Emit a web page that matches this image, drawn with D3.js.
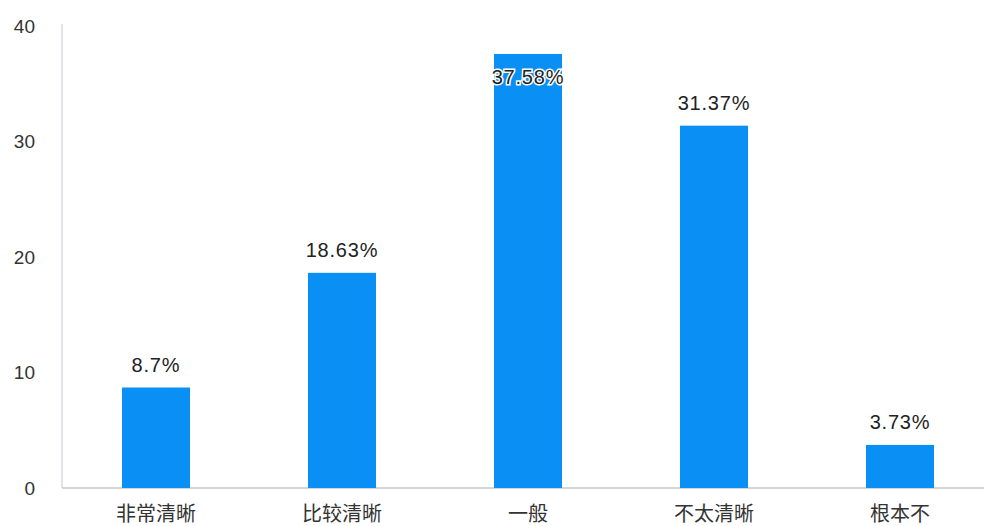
<!DOCTYPE html>
<html><head><meta charset="utf-8">
<script src="https://cdn.jsdelivr.net/npm/d3@7"></script>
<style>
html,body{margin:0;padding:0;background:#fff;overflow:hidden}
svg{display:block}
</style></head>
<body>
<svg id="c" width="984" height="526"></svg>
<script>
const categories = ["非常清晰", "比较清晰", "一般", "不太清晰", "根本不"];
const values = [8.7, 18.63, 37.58, 31.37, 3.73];
const valueLabels = ["8.7%", "18.63%", "37.58%", "31.37%", "3.73%"];
const yTicks = [0, 10, 20, 30, 40];

(function () {
const W = 984, H = 526;
const leftX = 62, baseY = 488, topY = 26;
const svg = d3.select("#c");

const x = d3.scaleBand().domain(categories).range([63, 993]).padding(0);
const barW = 68;
const y = d3.scaleLinear().domain([0, 40]).range([baseY, topY]);

// axes lines
svg.append("line").attr("x1", leftX).attr("x2", leftX).attr("y1", topY - 2).attr("y2", baseY)
  .attr("stroke", "#d8dbe2").attr("stroke-width", 1.5);
svg.append("line").attr("x1", leftX).attr("x2", W).attr("y1", baseY).attr("y2", baseY)
  .attr("stroke", "#c8c8c8").attr("stroke-width", 1.5);

// y tick labels
const yAxis = d3.axisLeft(y).tickValues(yTicks).tickSize(0).tickPadding(27);
const ga = svg.append("g").attr("transform", `translate(${leftX},0)`).call(yAxis);
ga.select(".domain").remove();
ga.selectAll("text").attr("font-family", "Liberation Sans, Arial, sans-serif")
  .attr("font-size", 19).attr("fill", "#333");

// bars
svg.selectAll("rect.bar").data(values).join("rect").attr("class", "bar")
  .attr("x", (d, i) => x(categories[i]) + (x.bandwidth() - barW) / 2)
  .attr("width", barW)
  .attr("y", d => y(d))
  .attr("height", d => baseY - y(d))
  .attr("fill", "#0a8ff5");

// value labels
const inside = d => y(d) - 17 < 40;
svg.selectAll("text.val").data(values).join("text").attr("class", "val")
  .attr("x", (d, i) => x(categories[i]) + x.bandwidth() / 2)
  .attr("y", d => (inside(d) ? y(d) + 30 : y(d) - 16))
  .attr("text-anchor", "middle")
  .attr("font-family", "Liberation Sans, Arial, sans-serif")
  .attr("font-size", 20).attr("letter-spacing", "0.8px")
  .attr("fill", "#222")
  .attr("stroke", d => (inside(d) ? "#fff" : "none"))
  .attr("stroke-width", 3).attr("paint-order", "stroke")
  .text((d, i) => valueLabels[i]);

// category labels
svg.selectAll("text.cat").data(categories).join("text").attr("class", "cat")
  .attr("x", d => x(d) + x.bandwidth() / 2)
  .attr("y", 521)
  .attr("text-anchor", "middle")
  .attr("font-family", "Noto Sans CJK SC, sans-serif")
  .attr("font-size", 20).attr("fill", "#333")
  .text(d => d);
})();
</script>
</body></html>
